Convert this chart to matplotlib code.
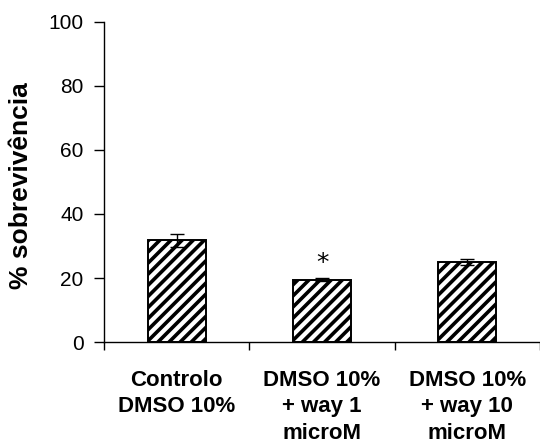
import matplotlib
matplotlib.use("Agg")
import matplotlib.pyplot as plt

plt.rcParams["font.family"] = ["Liberation Sans", "DejaVu Sans"]
plt.rcParams["hatch.linewidth"] = 2.6

# ── data ─────────────────────────────────────────────────────────────────────
categories = ["Controlo\nDMSO 10%", "DMSO 10%\n+ way 1\nmicroM", "DMSO 10%\n+ way 10\nmicroM"]
survival = [31.8, 19.5, 25.1]
errors = [2.1, 0.4, 1.0]
significant = [False, True, False]

fig = plt.figure(figsize=(5.4, 4.46), dpi=100)
ax = fig.add_axes([0.193, 0.233, 0.807, 0.718])

x = list(range(len(categories)))
ax.bar(x, survival, width=0.4, color="white", edgecolor="black",
       linewidth=1.4, hatch="///", zorder=2)
ax.errorbar(x, survival, yerr=errors, fmt="none", ecolor="black",
            elinewidth=1, capsize=5, capthick=1, zorder=3)

for xi, v, e, s in zip(x, survival, errors, significant):
    if s:
        ax.text(xi, v + e + 1.2, "*", ha="center", va="bottom",
                fontsize=18, family="DejaVu Sans")

ax.set_xlim(-0.5, 2.5)
ax.set_ylim(0, 100)
ax.set_yticks([0, 20, 40, 60, 80, 100])
ax.tick_params(axis="y", direction="out", length=7, width=1, labelsize=15, pad=8)

# boundary ticks (no labels) and category labels on minor ticks
ax.set_xticks([-0.5, 0.5, 1.5, 2.5])
ax.set_xticklabels([])
ax.tick_params(axis="x", which="major", direction="out", length=6, width=1)
ax.set_xticks(x, minor=True)
ax.set_xticklabels(categories, minor=True, fontsize=16, fontweight="bold",
                   linespacing=1.35, va="top")
ax.tick_params(axis="x", which="minor", length=0, pad=20)

ax.set_ylabel("% sobrevivência", fontsize=19, fontweight="bold")
ax.yaxis.set_label_coords(-0.163, 0.49)

for side in ["top", "right"]:
    ax.spines[side].set_visible(False)
for side in ["left", "bottom"]:
    ax.spines[side].set_linewidth(1)

fig.savefig("out.png", dpi=100, facecolor="white")
